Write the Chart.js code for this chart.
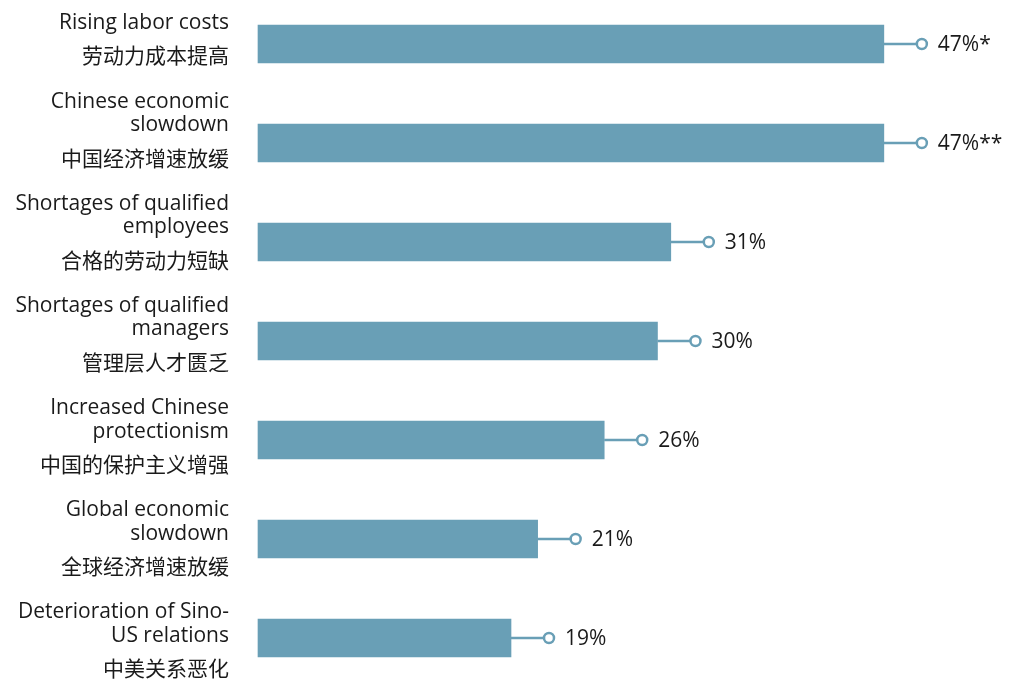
<!DOCTYPE html>
<html lang="en">
<head>
  <meta charset="UTF-8" />
  <title>Concerns of companies operating in China</title>
  <script src="https://cdn.jsdelivr.net/npm/chart.js"></script>
  <style>
    html, body { margin: 0; padding: 0; background: #fff; }
    #wrap { width: 1022px; height: 680px; position: relative; }
  </style>
</head>
<body>
  <div id="wrap"><canvas id="concernChart"></canvas></div>

  <script>
    const englishLabels = [
      ["Rising labor costs"],
      ["Chinese economic", "slowdown"],
      ["Shortages of qualified", "employees"],
      ["Shortages of qualified", "managers"],
      ["Increased Chinese", "protectionism"],
      ["Global economic", "slowdown"],
      ["Deterioration of Sino-", "US relations"]
    ];
    const chineseLabels = [
      "劳动力成本提高",
      "中国经济增速放缓",
      "合格的劳动力短缺",
      "管理层人才匮乏",
      "中国的保护主义增强",
      "全球经济增速放缓",
      "中美关系恶化"
    ];
    const shares = [47, 47, 31, 30, 26, 21, 19];
    const valueLabels = ["47%*", "47%**", "31%", "30%", "26%", "21%", "19%"];

    const barColor = "#699fb6";
    const latin = "'Open Sans', Lato, sans-serif";
    const cjk = "'Noto Sans CJK SC', sans-serif";

    // connector line, hollow dot and value text after each bar
    const endMarkers = {
      id: "endMarkers",
      afterDatasetsDraw(chart) {
        const ctx = chart.ctx;
        const bars = chart.getDatasetMeta(0).data;
        ctx.save();
        bars.forEach((bar, i) => {
          const x0 = bar.x, y = bar.y, x1 = bar.x + 38;
          ctx.strokeStyle = barColor;
          ctx.lineWidth = 2.5;
          ctx.beginPath();
          ctx.moveTo(x0, y);
          ctx.lineTo(x1 - 5, y);
          ctx.stroke();
          ctx.beginPath();
          ctx.arc(x1, y, 5, 0, Math.PI * 2);
          ctx.fillStyle = "#fff";
          ctx.fill();
          ctx.stroke();
          ctx.fillStyle = "#1a1a1a";
          ctx.font = "21px " + latin;
          ctx.textAlign = "left";
          ctx.textBaseline = "middle";
          ctx.fillText(valueLabels[i], x1 + 16, y + 1);
        });
        ctx.restore();
      }
    };

    // bilingual category labels to the left of the bars
    const categoryLabels = {
      id: "categoryLabels",
      afterDraw(chart) {
        const ctx = chart.ctx;
        const yScale = chart.scales.y;
        const right = chart.chartArea.left - 29;
        ctx.save();
        ctx.textAlign = "right";
        ctx.textBaseline = "middle";
        ctx.fillStyle = "#1a1a1a";
        chineseLabels.forEach((zh, i) => {
          const mid = yScale.getPixelForValue(i);
          const zhY = mid * 1.032 + 10;
          ctx.font = "21px " + cjk;
          ctx.fillText(zh, right, zhY);
          ctx.font = "21px " + latin;
          const lines = englishLabels[i];
          lines.forEach((line, k) => {
            const fromBottom = lines.length - k;
            ctx.fillText(line, right, zhY - 9 - 23.5 * fromBottom);
          });
        });
        ctx.restore();
      }
    };

    new Chart(document.getElementById("concernChart"), {
      type: "bar",
      data: {
        labels: chineseLabels,
        datasets: [{
          data: shares,
          backgroundColor: barColor,
          barThickness: 38,
          clip: false
        }]
      },
      options: {
        indexAxis: "y",
        responsive: true,
        maintainAspectRatio: false,
        animation: false,
        layout: { padding: { left: 258, right: 5, top: 44, bottom: 42 } },
        scales: {
          x: { display: false, min: 0, max: 57 },
          y: { display: false, offset: false, grid: { display: false } }
        },
        plugins: {
          legend: { display: false },
          tooltip: { enabled: false }
        }
      },
      plugins: [endMarkers, categoryLabels]
    });
  </script>
</body>
</html>
